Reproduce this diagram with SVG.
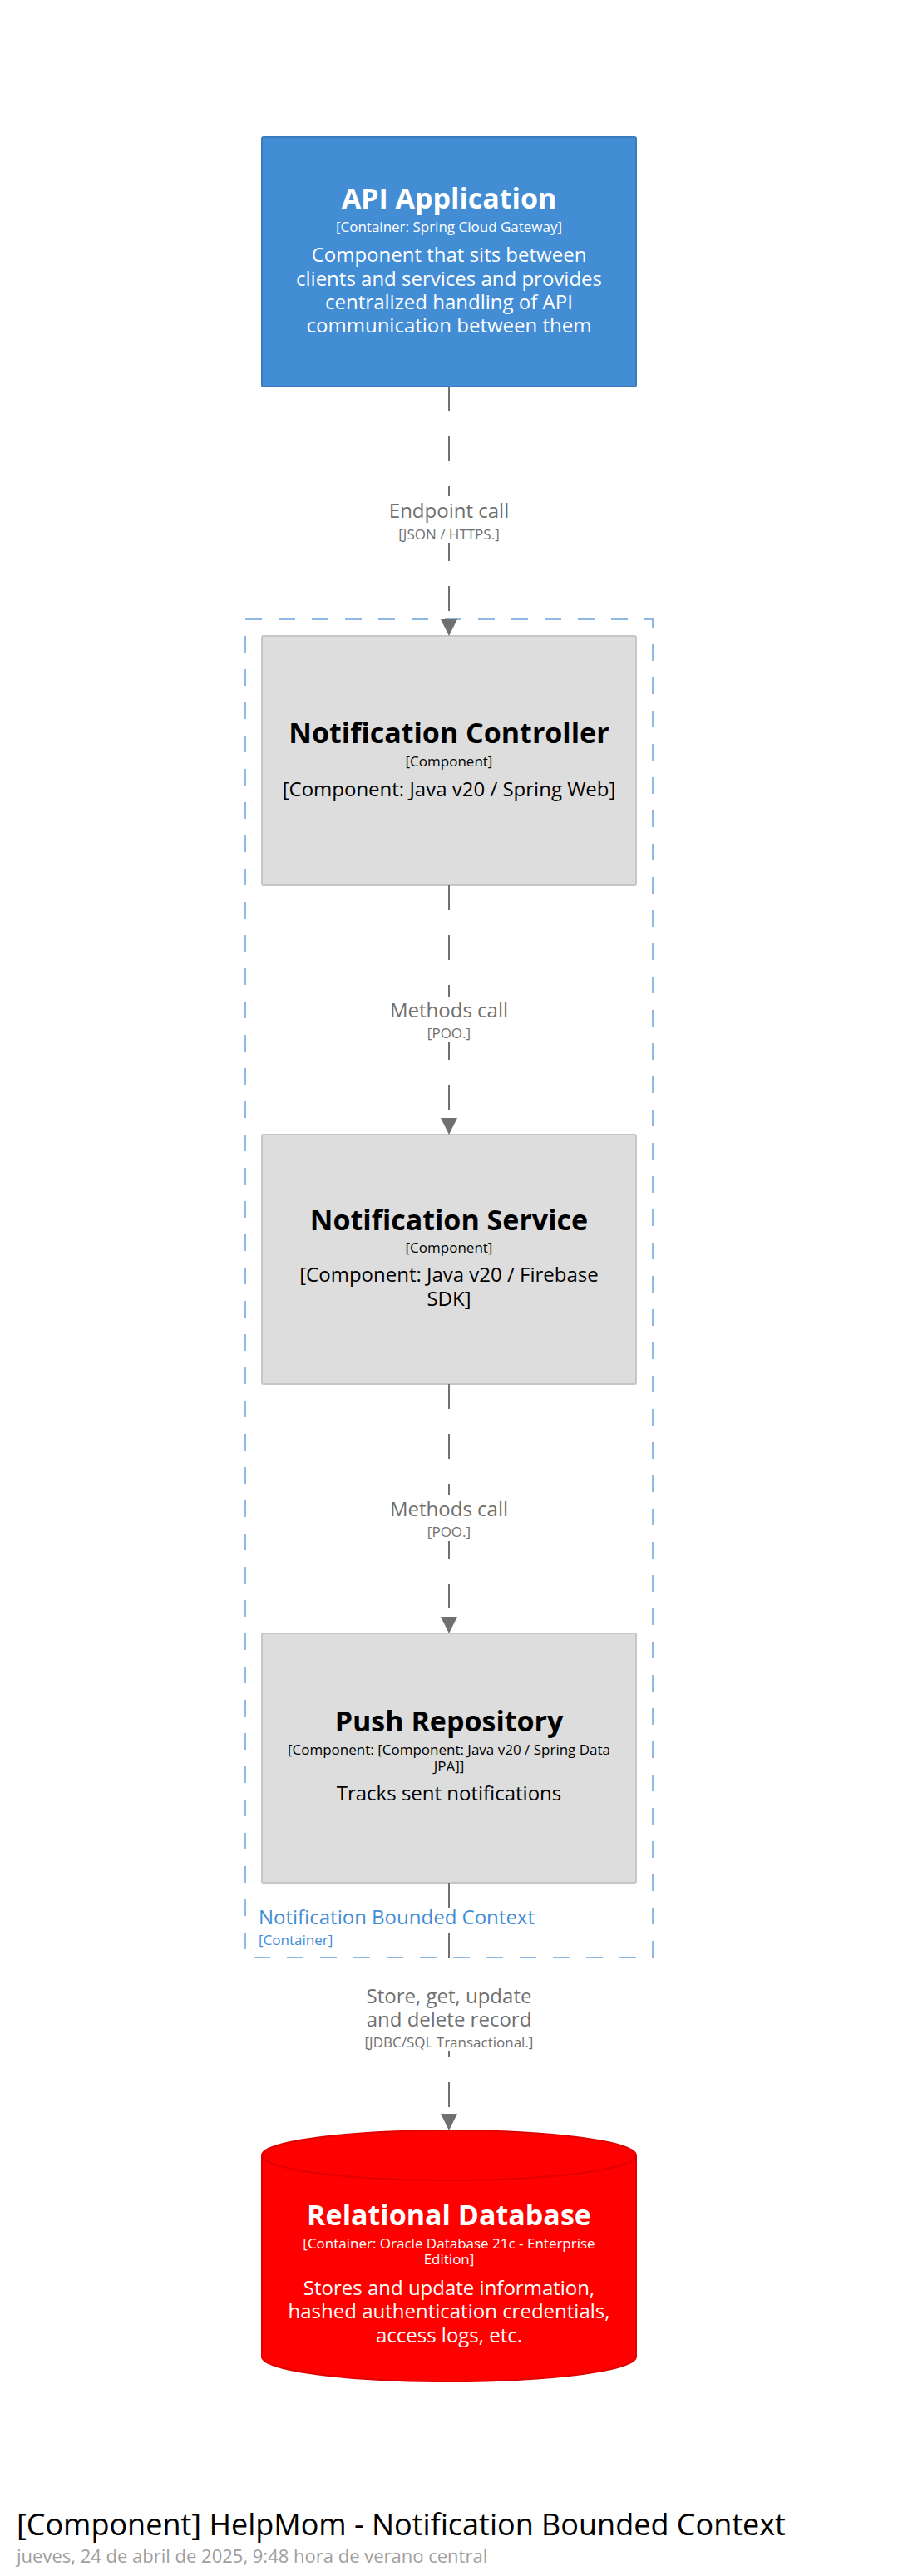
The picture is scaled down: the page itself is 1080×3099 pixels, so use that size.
<svg xmlns="http://www.w3.org/2000/svg" width="1080" height="3099" viewBox="0 0 1080 3099">
<defs>
<style>
text{font-family:"Open Sans","Noto Sans","Liberation Sans",sans-serif;text-anchor:middle}
.name{font-size:34px;font-weight:bold}
.meta{font-size:17px}
.desc{font-size:24px}
.wht{fill:#ffffff}
.blk{fill:#000000}
.comp{fill:#dddddd;stroke:#c6c6c6;stroke-width:2}
.edge{stroke:#707070;stroke-width:2;stroke-dasharray:30 30;fill:none}
.head{fill:#707070}
.lbg{fill:#ffffff}
.rl{fill:#707070}
</style>
</defs>
<rect width="1080" height="3099" fill="#ffffff"/>

<g id="boundary">
<rect x="295" y="745" width="490" height="1610" fill="none" stroke="#8fb9e5" stroke-width="2" stroke-dasharray="20 20"/>
<text x="311" y="2315" style="text-anchor:start;font-size:24px;fill:#438dd5">Notification Bounded Context</text>
<text x="311" y="2340" style="text-anchor:start;font-size:17px;fill:#438dd5">[Container]</text>
</g>

<g id="api-application">
<rect x="315" y="165" width="450" height="300" rx="2" fill="#438dd5" stroke="#3a7cc0" stroke-width="2"/>
<text x="540" y="251" class="name wht">API Application</text>
<text x="540" y="279" class="meta wht">[Container: Spring Cloud Gateway]</text>
<text x="540" y="315" class="desc wht">Component that sits between</text>
<text x="540" y="344" class="desc wht">clients and services and provides</text>
<text x="540" y="372" class="desc wht">centralized handling of API</text>
<text x="540" y="400" class="desc wht">communication between them</text>
</g>

<g id="notification-controller">
<rect x="315" y="765" width="450" height="300" rx="2" class="comp"/>
<text x="540" y="894" class="name blk">Notification Controller</text>
<text x="540" y="922" class="meta blk">[Component]</text>
<text x="540" y="958" class="desc blk">[Component: Java v20 / Spring Web]</text>
</g>

<g id="notification-service">
<rect x="315" y="1365" width="450" height="300" rx="2" class="comp"/>
<text x="540" y="1480" class="name blk">Notification Service</text>
<text x="540" y="1507" class="meta blk">[Component]</text>
<text x="540" y="1542" class="desc blk">[Component: Java v20 / Firebase</text>
<text x="540" y="1571" class="desc blk">SDK]</text>
</g>

<g id="push-repository">
<rect x="315" y="1965" width="450" height="300" rx="2" class="comp"/>
<text x="540" y="2083" class="name blk">Push Repository</text>
<text x="540" y="2111" class="meta blk">[Component: [Component: Java v20 / Spring Data</text>
<text x="540" y="2131" class="meta blk">JPA]]</text>
<text x="540" y="2166" class="desc blk">Tracks sent notifications</text>
</g>

<g id="relational-database">
<path d="M315,2593 A225,30 0 0 1 765,2593 L765,2835 A225,30 0 0 1 315,2835 Z" fill="#ff0000" stroke="#e00000" stroke-width="2"/>
<path d="M315,2593 A225,30 0 0 0 765,2593" fill="none" stroke="#e00000" stroke-width="2"/>
<text x="540" y="2677" class="name wht">Relational Database</text>
<text x="540" y="2705" class="meta wht">[Container: Oracle Database 21c - Enterprise</text>
<text x="540" y="2724" class="meta wht">Edition]</text>
<text x="540" y="2761" class="desc wht">Stores and update information,</text>
<text x="540" y="2789" class="desc wht">hashed authentication credentials,</text>
<text x="540" y="2818" class="desc wht">access logs, etc.</text>
</g>

<g id="connectors">
<line x1="540" y1="465" x2="540" y2="745" class="edge"/>
<polygon points="530,745 550,745 540,765" class="head"/>
<rect x="462" y="597" width="156" height="56" class="lbg"/>
<text x="540" y="623" class="desc rl">Endpoint call</text>
<text x="540" y="649" class="meta rl">[JSON / HTTPS.]</text>

<line x1="540" y1="1065" x2="540" y2="1345" class="edge"/>
<polygon points="530,1345 550,1345 540,1365" class="head"/>
<rect x="464" y="1199" width="152" height="55" class="lbg"/>
<text x="540" y="1224" class="desc rl">Methods call</text>
<text x="540" y="1249" class="meta rl">[POO.]</text>

<line x1="540" y1="1665" x2="540" y2="1945" class="edge"/>
<polygon points="530,1945 550,1945 540,1965" class="head"/>
<rect x="464" y="1799" width="152" height="55" class="lbg"/>
<text x="540" y="1824" class="desc rl">Methods call</text>
<text x="540" y="1849" class="meta rl">[POO.]</text>

<line x1="540" y1="2265" x2="540" y2="2543" class="edge"/>
<polygon points="530,2543 550,2543 540,2563" class="head"/>
<rect x="436" y="2384" width="208" height="83" class="lbg"/>
<text x="540" y="2410" class="desc rl">Store, get, update</text>
<text x="540" y="2438" class="desc rl">and delete record</text>
<text x="540" y="2463" class="meta rl">[JDBC/SQL Transactional.]</text>
</g>

<g id="footer">
<text x="20" y="3050" style="text-anchor:start;font-size:36px;fill:#000000">[Component] HelpMom - Notification Bounded Context</text>
<text x="20" y="3083" style="text-anchor:start;font-size:22px;fill:#a0a0a0">jueves, 24 de abril de 2025, 9:48 hora de verano central</text>
</g>
</svg>
